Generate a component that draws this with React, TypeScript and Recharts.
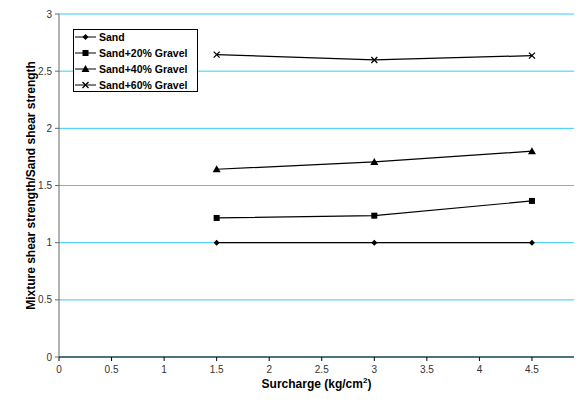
import React from "react";
import { LineChart, Line, XAxis, YAxis, CartesianGrid, ReferenceLine } from "recharts";

const surcharge = [1.5, 3, 4.5];
const sand = [1, 1, 1];
const sand20 = [1.216, 1.236, 1.365];
const sand40 = [1.642, 1.706, 1.8];
const sand60 = [2.645, 2.598, 2.636];
const xTicks = [0, 0.5, 1, 1.5, 2, 2.5, 3, 3.5, 4, 4.5];
const yTicks = [0, 0.5, 1, 1.5, 2, 2.5, 3];
const seriesNames = ["Sand", "Sand+20% Gravel", "Sand+40% Gravel", "Sand+60% Gravel"];
const seriesKeys = ["sand", "sand20", "sand40", "sand60"];
const markers = ["diamond", "square", "triangle", "cross"];

const data = surcharge.map((x, i) => ({
  x,
  sand: sand[i],
  sand20: sand20[i],
  sand40: sand40[i],
  sand60: sand60[i],
}));

const FONT = "'Liberation Sans', Arial, sans-serif";

function Marker({ cx, cy, kind }: { cx: number; cy: number; kind: string }) {
  if (cx == null || cy == null) return null;
  if (kind === "diamond")
    return <path d={`M${cx},${cy - 3}L${cx + 3},${cy}L${cx},${cy + 3}L${cx - 3},${cy}Z`} fill="#000" />;
  if (kind === "square") return <rect x={cx - 3} y={cy - 3} width={6} height={6} fill="#000" />;
  if (kind === "triangle")
    return <path d={`M${cx},${cy - 4}L${cx + 4},${cy + 3}L${cx - 4},${cy + 3}Z`} fill="#000" />;
  return (
    <path
      d={`M${cx - 3},${cy - 3}L${cx + 3},${cy + 3}M${cx - 3},${cy + 3}L${cx + 3},${cy - 3}`}
      stroke="#000"
      strokeWidth={1.3}
    />
  );
}

const makeDot = (kind: string) => (props: any) => (
  <Marker key={`${kind}-${props.index}`} cx={props.cx} cy={props.cy} kind={kind} />
);

function LegendBox() {
  return (
    <div
      style={{
        position: "absolute",
        left: 73,
        top: 29,
        border: "1px solid #000",
        background: "#fff",
        width: 125,
        height: 63,
        boxSizing: "border-box",
        fontFamily: FONT,
        fontWeight: "bold",
        fontSize: 10.5,
      }}
    >
      {seriesNames.map((n, i) => (
        <div
          key={n}
          style={{
            position: "absolute",
            left: 0,
            top: 6.5 + i * 16.3 - 8,
            height: 16,
            display: "flex",
            alignItems: "center",
            whiteSpace: "nowrap",
          }}
        >
          <svg width={23} height={10}>
            <line x1={1} y1={5} x2={22} y2={5} stroke="#000" strokeWidth={1} />
            <Marker cx={11.5} cy={5} kind={markers[i]} />
          </svg>
          <span style={{ marginLeft: 2 }}>{n}</span>
        </div>
      ))}
    </div>
  );
}

const XLabel = (props: any) => {
  const vb = props.viewBox;
  const cx = vb.x + vb.width / 2;
  return (
    <text x={cx} y={388} textAnchor="middle" fontFamily={FONT} fontWeight="bold" fontSize={12} fill="#000">
      Surcharge (kg/cm
      <tspan dy={-5} fontSize={8}>2</tspan>
      <tspan dy={5}>)</tspan>
    </text>
  );
};

const YLabel = (props: any) => {
  const vb = props.viewBox;
  const cy = vb.y + vb.height / 2;
  return (
    <text
      x={35}
      y={cy}
      transform={`rotate(-90, 35, ${cy})`}
      textAnchor="middle"
      fontFamily={FONT}
      fontWeight="bold"
      fontSize={12}
      fill="#000"
    >
      Mixture shear strength/Sand shear strength
    </text>
  );
};

export default function App() {
  return (
    <div style={{ position: "absolute", left: 0, top: 0, width: 577, height: 405, background: "#fff" }}>
      <LineChart width={577} height={405} data={data} margin={{ top: 14, right: 3, bottom: 18, left: 0 }}>
        <CartesianGrid vertical={false} stroke="#33CCFF" strokeWidth={1} />
        <ReferenceLine y={0.5} stroke="#99DDF5" />
        <XAxis
          type="number"
          dataKey="x"
          domain={[0, 4.9]}
          ticks={xTicks}
          interval={0}
          tickSize={4}
          height={30}
          stroke="#000"
          tick={{ fontFamily: FONT, fontSize: 10, fill: "#333" }}
          tickMargin={5}
          label={<XLabel />}
        />
        <YAxis
          type="number"
          domain={[0, 3]}
          ticks={yTicks}
          interval={0}
          width={59}
          tickSize={4}
          stroke="#666"
          tick={{ fontFamily: FONT, fontSize: 10, fill: "#333" }}
          tickMargin={3}
          label={<YLabel />}
        />
        {seriesKeys.map((k, i) => (
          <Line
            key={k}
            dataKey={k}
            name={seriesNames[i]}
            stroke="#000"
            strokeWidth={1.2}
            isAnimationActive={false}
            dot={makeDot(markers[i])}
            activeDot={false}
          />
        ))}
      </LineChart>
      <LegendBox />
    </div>
  );
}
